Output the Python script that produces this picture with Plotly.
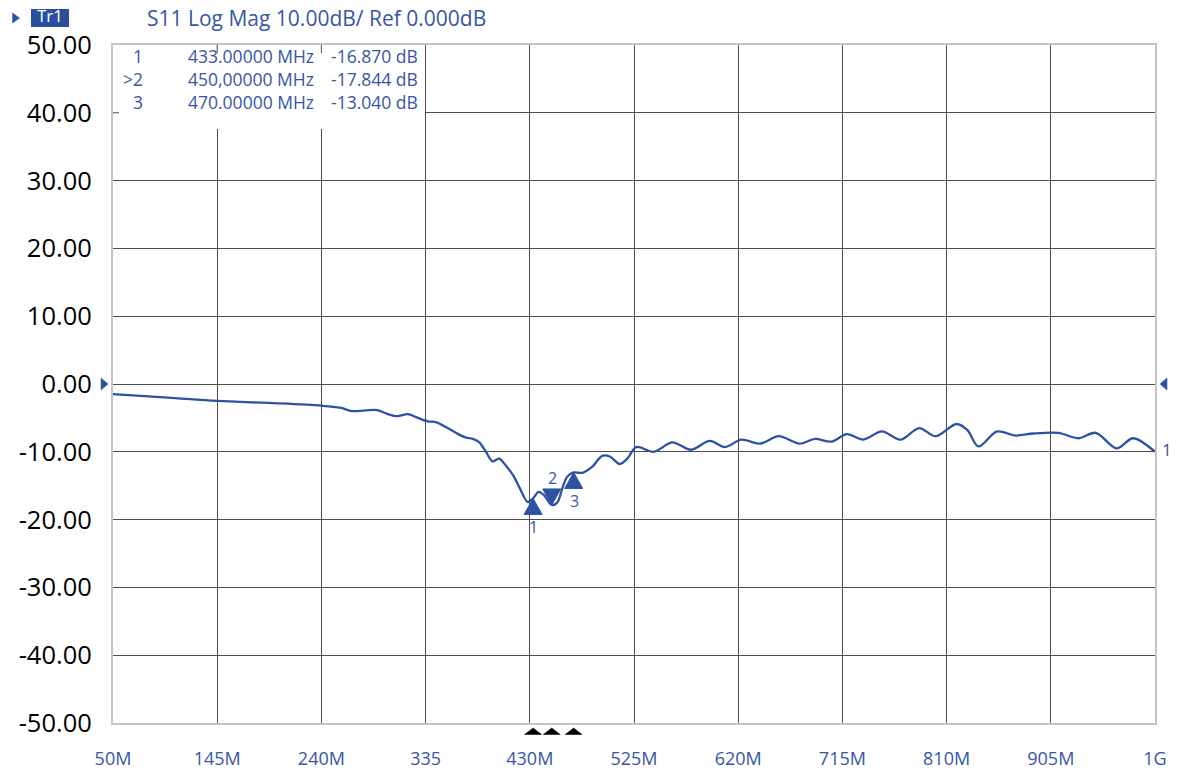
import plotly.graph_objects as go

# ---- data ----
freq_mhz = [50, 100, 145, 200, 240, 257, 268, 280, 291, 300, 309, 319, 328, 337, 345,
            355, 366, 372, 378, 384, 390, 396, 402, 409, 415, 421, 428, 433, 438, 443,
            450, 455, 460, 464, 470, 478, 487, 496, 503, 512, 519, 527, 543, 560, 577,
            594, 608, 623, 640, 657, 676, 690, 705, 719, 734, 751, 768, 785, 800, 819,
            829, 839, 856, 873, 889, 912, 930, 946, 965, 980, 1000]
s11_db = [-1.5, -2.0, -2.5, -2.85, -3.2, -3.5, -4.0, -3.9, -3.85, -4.4, -4.75, -4.45, -5.0, -5.5, -5.65,
          -6.5, -7.5, -7.9, -8.1, -8.6, -10.0, -11.4, -11.0, -12.2, -13.5, -15.4, -17.4, -16.87, -15.9, -16.4,
          -17.844, -17.5, -15.2, -13.7, -13.04, -13.1, -12.2, -10.6, -10.7, -11.8, -11.0, -9.3, -10.0, -8.6, -9.7,
          -8.4, -9.3, -8.2, -8.8, -7.7, -8.8, -8.1, -8.5, -7.4, -8.2, -7.0, -8.2, -6.5, -7.7, -5.9,
          -6.8, -9.2, -7.0, -7.6, -7.3, -7.2, -8.0, -7.2, -9.5, -8.0, -10.0]

marker_ids = ["1", "2", "3"]
marker_row_labels = ["1", ">2", "3"]
marker_freq = [433.0, 450.0, 470.0]
marker_db = [-16.870, -17.844, -13.040]
marker_freq_text = ["433.00000 MHz", "450,00000 MHz", "470.00000 MHz"]
marker_val_text = ["-16.870 dB", "-17.844 dB", "-13.040 dB"]
marker_dir = ["up", "down", "up"]

x_tick_vals = [50, 145, 240, 335, 430, 525, 620, 715, 810, 905, 1000]
x_tick_text = ["50M", "145M", "240M", "335", "430M", "525M", "620M", "715M", "810M", "905M", "1G"]
y_tick_vals = [50, 40, 30, 20, 10, 0, -10, -20, -30, -40, -50]
y_tick_text = ["50.00", "40.00", "30.00", "20.00", "10.00", "0.00", "-10.00", "-20.00", "-30.00", "-40.00", "-50.00"]

ref_level = 0.0
title_text = "S11 Log Mag 10.00dB/ Ref 0.000dB"
trace_name = "Tr1"

# ---- styles ----
BLUE = "#2d52a3"
TXT = "#3656a6"
GRID = "#4d4d4d"
FRAME = "#c4c4c4"
FONT = "Open Sans"

fig = go.Figure()
fig.add_trace(go.Scatter(x=freq_mhz, y=s11_db, mode="lines",
                         line=dict(color=BLUE, width=2.3, shape="spline", smoothing=0.9),
                         hoverinfo="skip", showlegend=False))

shapes = []
annotations = []

# marker table box (covers grid in upper-left corner)
shapes.append(dict(type="rect", xref="x", yref="y", x0=50.4, x1=334.4, y0=37.6, y1=49.85,
                   fillcolor="white", line=dict(width=0), layer="above"))
for xv in [145, 240]:
    shapes.append(dict(type="line", xref="x", yref="y", x0=xv, x1=xv, y0=50, y1=48.8,
                       line=dict(color=GRID, width=1), layer="above"))
shapes.append(dict(type="line", xref="x", yref="y", x0=50, x1=55.5, y0=40, y1=40,
                   line=dict(color=GRID, width=1), layer="above"))

# trace markers
tri_up = "M0,0 L9,-16 L-9,-16 Z"
tri_dn = "M0,0 L9,16 L-9,16 Z"
for mid, f, v, d in zip(marker_ids, marker_freq, marker_db, marker_dir):
    shapes.append(dict(type="path", xref="x", yref="y", xsizemode="pixel", ysizemode="pixel",
                       xanchor=f, yanchor=v, path=tri_up if d == "up" else tri_dn,
                       fillcolor=BLUE, line=dict(color=BLUE, width=1), layer="above"))
    annotations.append(dict(x=f, y=v, xref="x", yref="y", text=mid, showarrow=False,
                            yshift=(-29 if d == "up" else 27), xshift=(0 if mid == "1" else 1),
                            font=dict(family=FONT, size=16, color=TXT)))
    # black stimulus markers under the axis
    shapes.append(dict(type="path", xref="x", yref="paper", xsizemode="pixel", ysizemode="pixel",
                       xanchor=f, yanchor=0, path="M0,-5 L8.5,-11.5 L-8.5,-11.5 Z",
                       fillcolor="black", line=dict(color="black", width=0.5), layer="above"))

# reference level triangles
shapes.append(dict(type="path", xref="paper", yref="y", xsizemode="pixel", ysizemode="pixel",
                   xanchor=0, yanchor=ref_level, path="M-12,6 L-5,0 L-12,-6 Z",
                   fillcolor=BLUE, line=dict(color=BLUE, width=0.5), layer="above"))
shapes.append(dict(type="path", xref="paper", yref="y", xsizemode="pixel", ysizemode="pixel",
                   xanchor=1, yanchor=ref_level, path="M12,6 L5,0 L12,-6 Z",
                   fillcolor=BLUE, line=dict(color=BLUE, width=0.5), layer="above"))

# trace end label
annotations.append(dict(x=freq_mhz[-1], y=s11_db[-1], xref="x", yref="y", text="1", showarrow=False,
                        xshift=12, yshift=2, font=dict(family=FONT, size=17, color=TXT)))

# marker table text (one multi-line text per column)
table_y = 0.9499
tfont = dict(family=FONT, size=17.5, color=TXT)
annotations.append(dict(x=0.0307, y=table_y, xref="paper", yref="paper", text="<br>".join(marker_row_labels),
                        showarrow=False, xanchor="right", yanchor="middle", align="right", font=tfont))
annotations.append(dict(x=0.0701, y=table_y, xref="paper", yref="paper", text="<br>".join(marker_freq_text),
                        showarrow=False, xanchor="left", yanchor="middle", align="left", font=tfont))
annotations.append(dict(x=0.2946, y=table_y, xref="paper", yref="paper", text="<br>".join(marker_val_text),
                        showarrow=False, xanchor="right", yanchor="middle", align="right", font=tfont))

# header
shapes.append(dict(type="rect", xref="paper", yref="paper", x0=-0.0787, x1=-0.0422, y0=1.0265, y1=1.0531,
                   fillcolor="#2a4f9f", line=dict(width=0), layer="above"))
annotations.append(dict(x=-0.0605, y=1.0428, xref="paper", yref="paper", text=trace_name, showarrow=False,
                        xanchor="center", yanchor="middle", borderpad=0,
                        font=dict(family=FONT, size=17, color="white")))
shapes.append(dict(type="path", xref="paper", yref="paper", xsizemode="pixel", ysizemode="pixel",
                   xanchor=-0.0935, yanchor=1.0398, path="M-3,5 L4,0 L-3,-5 Z",
                   fillcolor=BLUE, line=dict(color=BLUE, width=0.5), layer="above"))
annotations.append(dict(x=0.0307, y=1.0398, xref="paper", yref="paper", text=title_text, showarrow=False,
                        xanchor="left", yanchor="middle", font=dict(family=FONT, size=21, color=TXT)))

fig.update_layout(
    width=1184, height=771, autosize=False,
    margin=dict(l=113, r=29, t=45, b=48, autoexpand=False),
    paper_bgcolor="white", plot_bgcolor="white",
    showlegend=False,
    shapes=shapes, annotations=annotations,
    xaxis=dict(range=[50, 1000], tickvals=x_tick_vals, ticktext=x_tick_text, automargin=False,
               showgrid=True, gridcolor=GRID, gridwidth=1, zeroline=False,
               showline=True, linecolor=FRAME, linewidth=2, mirror=True,
               ticks="", ticklabelstandoff=18,
               tickfont=dict(family=FONT, size=18, color=TXT)),
    yaxis=dict(range=[-50, 50], tickvals=y_tick_vals, ticktext=y_tick_text, automargin=False,
               showgrid=True, gridcolor=GRID, gridwidth=1, zeroline=False,
               showline=True, linecolor=FRAME, linewidth=2, mirror=True,
               ticks="", ticklabelstandoff=14,
               tickfont=dict(family=FONT, size=25.5, color="black")),
)

fig.write_html("out.html", config={"displayModeBar": False},
               post_script="document.body.style.margin='0';document.body.style.overflow='hidden';")
